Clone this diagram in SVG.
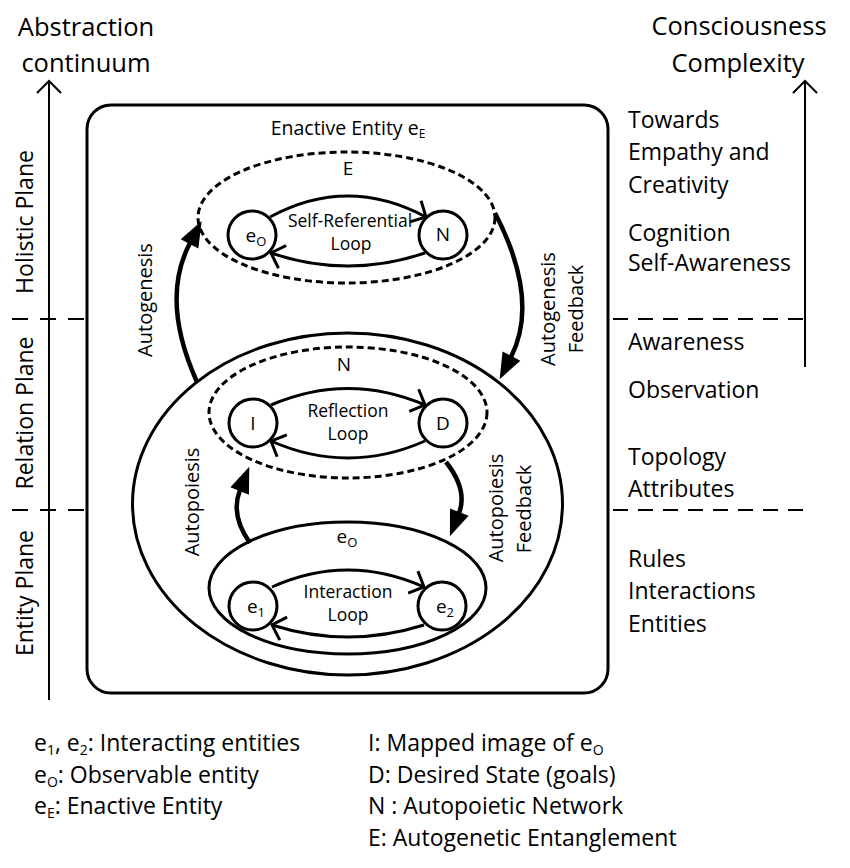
<svg xmlns="http://www.w3.org/2000/svg" width="850" height="868" viewBox="0 0 850 868">
<defs>
<style>
text{font-family:"Open Sans","Liberation Sans",sans-serif;fill:#000}
.h{font-size:25.5px}
.lab{font-size:23px}
.arc{font-size:20px}
.loop{font-size:17.5px}
.nd{font-size:19px}
.axis{stroke:#000;stroke-width:2;fill:none}
.dash{stroke:#000;stroke-width:2;stroke-dasharray:15 10;fill:none}
.node{fill:#fff;stroke:#000;stroke-width:3}
.sol{fill:none;stroke:#000;stroke-width:3}
.dot{fill:none;stroke:#000;stroke-width:3;stroke-dasharray:7 4}
.lp{fill:none;stroke:#000;stroke-width:3;marker-end:url(#v)}
.fb{fill:none;stroke:#000;stroke-width:4.5;marker-end:url(#tri)}
</style>
<marker id="v" markerUnits="userSpaceOnUse" viewBox="-16 -16 20 32" markerWidth="20" markerHeight="32" refX="0" refY="0" orient="auto"><path d="M-12,-12 L0,0 L-12,12" fill="none" stroke="#000" stroke-width="3"/></marker>
<marker id="tri" markerUnits="userSpaceOnUse" viewBox="-2 -11 30 22" markerWidth="30" markerHeight="22" refX="1" refY="0" orient="auto"><path d="M0,-10 L26,0 L0,10 z" fill="#000"/></marker>
</defs>
<rect width="850" height="868" fill="#fff"/>

<g id="axes">
<path class="axis" d="M49,700 V82 M37,93 L49,81 L61,93"/>
<path class="axis" d="M805,367 V82 M793,93 L805,81 L817,93"/>
<path class="dash" style="stroke-dasharray:16 12" d="M12,319 H87 M12,510 H87"/>
<path class="dash" d="M613,319 H805 M613,510 H805"/>
<text class="h" x="86" y="36" text-anchor="middle">Abstraction</text>
<text class="h" x="86" y="72" text-anchor="middle">continuum</text>
<text class="h" x="739" y="35" text-anchor="middle">Consciousness</text>
<text class="h" x="738" y="72" text-anchor="middle">Complexity</text>
<text class="lab" transform="translate(33,222) rotate(-90)" text-anchor="middle">Holistic Plane</text>
<text class="lab" transform="translate(33,413) rotate(-90)" text-anchor="middle">Relation Plane</text>
<text class="lab" transform="translate(33,593) rotate(-90)" text-anchor="middle">Entity Plane</text>
</g>

<g id="levels" class="lab">
<text x="628" y="128">Towards</text>
<text x="628" y="160">Empathy and</text>
<text x="628" y="193">Creativity</text>
<text x="628" y="241">Cognition</text>
<text x="628" y="271">Self-Awareness</text>
<text x="628" y="350">Awareness</text>
<text x="628" y="398">Observation</text>
<text x="628" y="465">Topology</text>
<text x="628" y="497">Attributes</text>
<text x="628" y="567">Rules</text>
<text x="628" y="599">Interactions</text>
<text x="628" y="632">Entities</text>
</g>

<g id="enactive-entity">
<rect x="87" y="105" width="521" height="588" rx="24" fill="none" stroke="#000" stroke-width="3"/>
<text x="348" y="135" text-anchor="middle" style="font-size:19.5px">Enactive Entity e<tspan font-size="12" dy="3">E</tspan></text>
</g>

<g id="E">
<ellipse class="dot" cx="346.5" cy="217.5" rx="148.5" ry="65.5"/>
<text class="nd" x="348" y="175" text-anchor="middle">E</text>
</g>

<g id="N-network">
<ellipse class="sol" cx="347.5" cy="504" rx="215" ry="171"/>
<ellipse class="dot" cx="348" cy="412.5" rx="139" ry="65.5"/>
<text class="nd" x="344" y="371" text-anchor="middle">N</text>
</g>

<g id="eO-entity">
<ellipse class="sol" cx="347.5" cy="588" rx="138.5" ry="66"/>
<text class="nd" x="347" y="543" text-anchor="middle">e<tspan font-size="13" dy="4">O</tspan></text>
</g>

<g id="connectors">
<path class="lp" d="M270,217 Q347.5,175 426,217"/>
<path class="lp" d="M425,253 Q347.5,279 271,253"/>
<path class="lp" d="M271,405 Q348,372 425,405"/>
<path class="lp" d="M425,441 Q348,475 271,441"/>
<path class="lp" d="M272,587 Q347.5,553 424,587"/>
<path class="lp" d="M424,625 Q347.5,649 272,625"/>
<path class="fb" d="M197,382 Q160,300 190,243"/>
<path class="fb" d="M495,213 Q540,300 511,357"/>
<path class="fb" d="M250,543 Q230,515 240,490"/>
<path class="fb" d="M446,462 Q468,490 459,513"/>
</g>

<g id="loop-labels" class="loop" text-anchor="middle">
<text x="350" y="227">Self-Referential</text>
<text x="351" y="250">Loop</text>
<text x="348" y="417">Reflection</text>
<text x="348" y="440">Loop</text>
<text x="348" y="598">Interaction</text>
<text x="348" y="621">Loop</text>
</g>

<g id="arc-labels" class="arc" text-anchor="middle">
<text transform="translate(152,300) rotate(-90)">Autogenesis</text>
<text transform="translate(555,309) rotate(-90)">Autogenesis</text>
<text transform="translate(583,309) rotate(-90)">Feedback</text>
<text transform="translate(199,502) rotate(-90)">Autopoiesis</text>
<text transform="translate(503,508) rotate(-90)">Autopoiesis</text>
<text transform="translate(531,509) rotate(-90)">Feedback</text>
</g>

<g id="node-eO">
<circle class="node" cx="252" cy="235" r="24"/>
<text class="nd" x="256" y="242" text-anchor="middle">e<tspan font-size="13" dy="4">O</tspan></text>
</g>
<g id="node-N">
<circle class="node" cx="443" cy="235" r="24"/>
<text class="nd" x="443" y="241" text-anchor="middle">N</text>
</g>
<g id="node-I">
<circle class="node" cx="253" cy="423" r="24"/>
<text class="nd" x="253" y="430" text-anchor="middle">I</text>
</g>
<g id="node-D">
<circle class="node" cx="443" cy="423" r="24"/>
<text class="nd" x="443" y="430" text-anchor="middle">D</text>
</g>
<g id="node-e1">
<circle class="node" cx="253" cy="606" r="24"/>
<text class="nd" x="256" y="613" text-anchor="middle">e<tspan font-size="13" dy="4">1</tspan></text>
</g>
<g id="node-e2">
<circle class="node" cx="442" cy="606" r="24"/>
<text class="nd" x="445" y="613" text-anchor="middle">e<tspan font-size="13" dy="4">2</tspan></text>
</g>

<g id="legend" class="lab">
<text x="34" y="751">e<tspan font-size="14" dy="3.5">1</tspan><tspan dy="-3.5">, e</tspan><tspan font-size="14" dy="3.5">2</tspan><tspan dy="-3.5">: Interacting entities</tspan></text>
<text x="34" y="783">e<tspan font-size="14" dy="3.5">O</tspan><tspan dy="-3.5">: Observable entity</tspan></text>
<text x="34" y="814">e<tspan font-size="14" dy="3.5">E</tspan><tspan dy="-3.5">: Enactive Entity</tspan></text>
<text x="368" y="751">I: Mapped image of e<tspan font-size="14" dy="3.5">O</tspan></text>
<text x="368" y="783">D: Desired State (goals)</text>
<text x="368" y="814">N : Autopoietic Network</text>
<text x="368" y="846">E: Autogenetic Entanglement</text>
</g>
</svg>
